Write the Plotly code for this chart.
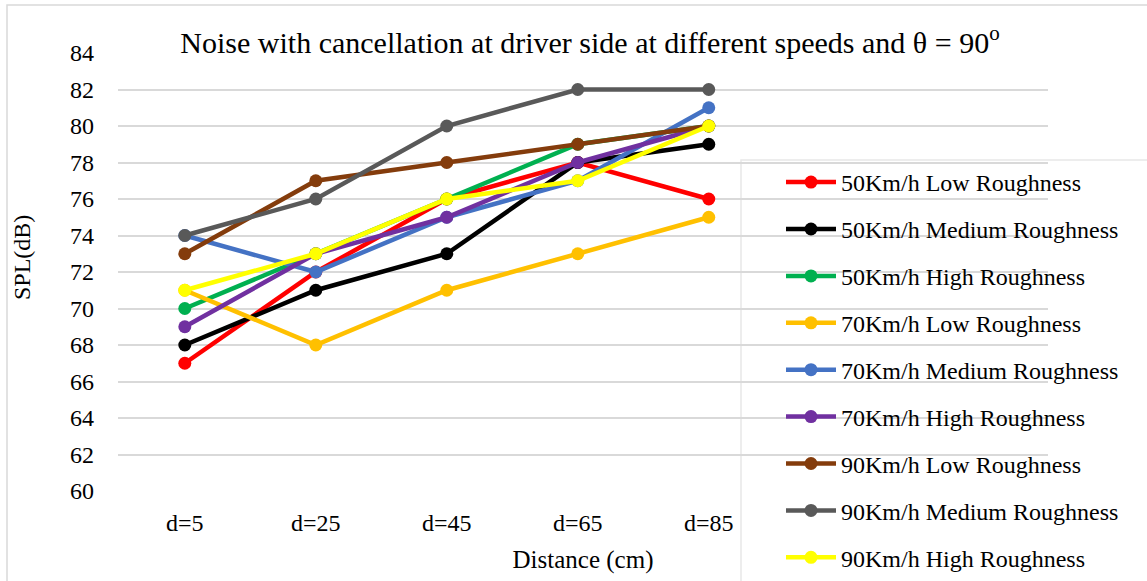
import plotly.graph_objects as go

categories = ["d=5", "d=25", "d=45", "d=65", "d=85"]

s50_low = [67, 72, 76, 78, 76]
s50_med = [68, 71, 73, 78, 79]
s50_high = [70, 73, 76, 79, 80]
s70_low = [71, 68, 71, 73, 75]
s70_med = [74, 72, 75, 77, 81]
s70_high = [69, 73, 75, 78, 80]
s90_low = [73, 77, 78, 79, 80]
s90_med = [74, 76, 80, 82, 82]
s90_high = [71, 73, 76, 77, 80]

series = [
    ("50Km/h Low Roughness", s50_low, "#FF0000"),
    ("50Km/h Medium Roughness", s50_med, "#000000"),
    ("50Km/h High Roughness", s50_high, "#00B050"),
    ("70Km/h Low Roughness", s70_low, "#FFC000"),
    ("70Km/h Medium Roughness", s70_med, "#4472C4"),
    ("70Km/h High Roughness", s70_high, "#7030A0"),
    ("90Km/h Low Roughness", s90_low, "#843C0C"),
    ("90Km/h Medium Roughness", s90_med, "#595959"),
    ("90Km/h High Roughness", s90_high, "#FFFF00"),
]

FONT = "Liberation Serif"
W, H = 1147, 581
PL, PR, PT, PB = 118, 1048, 53, 491  # plot area in pixels


def px(x):
    return (x - PL) / (PR - PL)


def py(y):
    return (PB - y) / (PB - PT)


fig = go.Figure()
for i, (name, vals, col) in enumerate(series):
    fig.add_trace(go.Scatter(
        x=categories, y=vals, name=name, mode="lines+markers",
        line=dict(color=col, width=4.5),
        marker=dict(color=col, size=13),
        legendgroup=f"g{i}",
    ))

fig.update_layout(
    width=W, height=H,
    margin=dict(l=PL, r=W - PR, t=PT, b=H - PB, autoexpand=False),
    paper_bgcolor="white", plot_bgcolor="white",
    font=dict(family=FONT, size=24, color="#000000"),
    title=dict(
        text="Noise with cancellation at driver side at different speeds and θ = 90<sup>o</sup>",
        x=590 / W, xanchor="center", y=1 - 42 / H, yanchor="middle",
        font=dict(family=FONT, size=30, color="#000000"),
    ),
    xaxis=dict(
        type="category", categoryorder="array", categoryarray=categories,
        range=[-0.51, 6.59], showgrid=False, zeroline=False, showline=False,
        ticks="", ticklabelstandoff=15,
        tickfont=dict(family=FONT, size=24, color="#000000"),
        title=dict(text="Distance (cm)", font=dict(family=FONT, size=25, color="#000000"), standoff=15),
    ),
    yaxis=dict(
        range=[60, 84], dtick=2, tick0=60,
        showgrid=True, gridcolor="#D9D9D9", gridwidth=1.5,
        zeroline=False, showline=False, ticks="", ticklabelstandoff=23,
        tickfont=dict(family=FONT, size=24, color="#000000"),
    ),
    legend=dict(
        xref="container", yref="container",
        x=781 / W, y=1 - 160 / H, xanchor="left", yanchor="top",
        bgcolor="rgba(0,0,0,0)", borderwidth=0,
        font=dict(family=FONT, size=24, color="#000000"),
        traceorder="grouped", tracegroupgap=12.7, itemwidth=50,
        maxheight=1.0,
    ),
    showlegend=True,
)

fig.add_annotation(
    text="SPL(dB)", textangle=-90, showarrow=False,
    xref="paper", yref="paper", x=px(22), y=py(258),
    xanchor="center", yanchor="middle",
    font=dict(family=FONT, size=24, color="#000000"),
)

# outer chart border and legend box border
fig.add_shape(type="rect", xref="paper", yref="paper",
              x0=px(7), x1=px(1200), y0=py(620), y1=py(5),
              line=dict(color="#D9D9D9", width=1.5), fillcolor="rgba(0,0,0,0)", layer="below")
fig.add_shape(type="rect", xref="paper", yref="paper",
              x0=px(741), x1=px(1200), y0=py(620), y1=py(160),
              line=dict(color="#E8E8E8", width=1.5), fillcolor="rgba(0,0,0,0)", layer="below")

fig.write_html("out.html")
